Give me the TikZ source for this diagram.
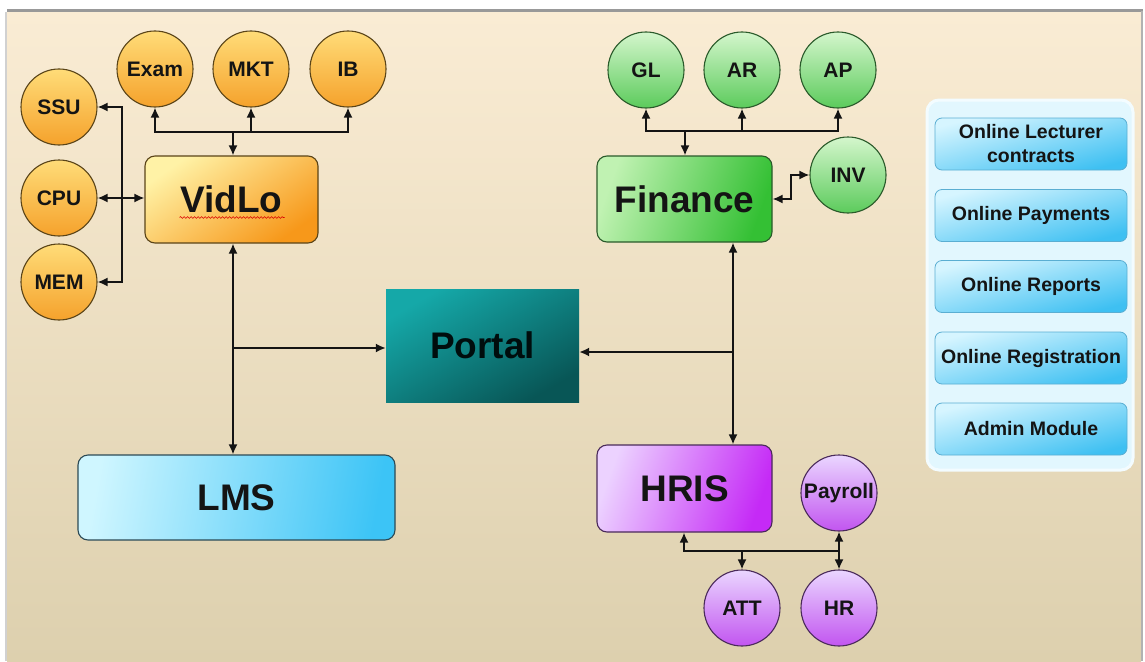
\documentclass[tikz,border=0pt]{standalone}
\usepackage{fontspec}
\setmainfont{Liberation Sans}
\usetikzlibrary{arrows.meta,calc,decorations.pathmorphing}

\definecolor{bgtop}{HTML}{FAECD4}
\definecolor{bgbot}{HTML}{DDD0AE}
\definecolor{ink}{HTML}{141414}
\definecolor{orA}{HTML}{FFF2A6}
\definecolor{orB}{HTML}{F7981A}
\definecolor{orC}{HTML}{FFDC78}
\definecolor{orD}{HTML}{F5A22C}
\definecolor{orE}{HTML}{5A4418}
\definecolor{grA}{HTML}{C0F2B2}
\definecolor{grB}{HTML}{34C034}
\definecolor{grC}{HTML}{D4F6CC}
\definecolor{grD}{HTML}{5CCB5C}
\definecolor{grE}{HTML}{2A5A2A}
\definecolor{puA}{HTML}{ECD2FF}
\definecolor{puB}{HTML}{C52AF6}
\definecolor{puC}{HTML}{EAD6FF}
\definecolor{puD}{HTML}{C255F0}
\definecolor{puE}{HTML}{4A2A5A}
\definecolor{cyA}{HTML}{CFF6FF}
\definecolor{cyB}{HTML}{3CC4F6}
\definecolor{cyE}{HTML}{2C4A55}
\definecolor{tlA}{HTML}{15A8A8}
\definecolor{tlB}{HTML}{085656}
\definecolor{pnl}{HTML}{E2F7FE}
\definecolor{btA}{HTML}{D6F5FF}
\definecolor{btB}{HTML}{3EC0F2}
\definecolor{btE}{HTML}{5AAED2}

\tikzset{
  bigtext/.style={font=\bfseries\fontsize{37}{40}\selectfont, text=ink},
  smalltext/.style={font=\bfseries\fontsize{21}{23}\selectfont, text=ink},
  modbox/.style={rounded corners=10pt, inner sep=0pt, line width=1.1pt, bigtext},
  orbox/.style={modbox, draw=orE, top color=orA, bottom color=orB, shading angle=35},
  grbox/.style={modbox, draw=grE, left color=grA, right color=grB, shading angle=70},
  pubox/.style={modbox, draw=puE, left color=puA, right color=puB, shading angle=70},
  cybox/.style={modbox, draw=cyE, left color=cyA, right color=cyB, shading angle=80},
  portalbox/.style={inner sep=0pt, bigtext, text=black!90!teal, top color=tlA, bottom color=tlB, shading angle=30},
  unit/.style={circle, minimum size=76pt, inner sep=0pt, line width=1.1pt, smalltext},
  orunit/.style={unit, draw=orE, top color=orC, bottom color=orD},
  grunit/.style={unit, draw=grE, top color=grC, bottom color=grD},
  puunit/.style={unit, draw=puE, top color=puC, bottom color=puD},
  onlinebtn/.style={rounded corners=7pt, draw=btE, line width=0.8pt, minimum width=192pt, minimum height=52pt,
    inner sep=0pt, align=center, top color=btA, bottom color=btB, shading angle=15,
    font=\bfseries\fontsize{19.5}{24}\selectfont, text=ink},
  link/.style={draw=ink, line width=1.8pt},
  tip/.tip={Latex[length=10pt,width=9pt]},
}

\begin{document}
\begin{tikzpicture}[x=1pt, y=-1pt]
  \useasboundingbox (0,0) rectangle (1145,661);
  \fill[white] (0,0) rectangle (1145,661);

  % sheet with its shadow edges
  \shade[top color=bgtop, bottom color=bgbot] (7,12) rectangle (1141,661);
  \draw[line width=3pt, black!40] (7,11) -- (1143,11);
  \draw[line width=2.5pt, black!30] (1142,11) -- (1142,661);
  \draw[line width=1.5pt, black!18] (6,12) -- (6,661);

  % main modules
  \node[orbox, minimum width=173pt, minimum height=87pt] (VidLo) at (231.5,199.5) {VidLo};
  \node[cybox, minimum width=317pt, minimum height=85pt] (LMS) at (236.5,497.5) {LMS};
  \node[portalbox, minimum width=193pt, minimum height=113pt] (Portal) at (482.5,345.5) {Portal};
  \node[grbox, minimum width=175pt, minimum height=86pt] (Finance) at (684.5,199) {Finance};
  \node[pubox, minimum width=175pt, minimum height=87pt] (HRIS) at (684.5,488.5) {HRIS};

  % spell-check underline under VidLo
  \draw[red!85!black, line width=0.6pt, decorate, decoration={snake, amplitude=0.9pt, segment length=3.5pt}]
    ($(VidLo.center)+(-52,18)$) -- ($(VidLo.center)+(53,18)$);

  % VidLo sub-units
  \node[orunit] (Exam) at (155,69) {Exam};
  \node[orunit] (MKT) at (251,69) {MKT};
  \node[orunit] (IB) at (348,69) {IB};
  \node[orunit] (SSU) at (59,107) {SSU};
  \node[orunit] (CPU) at (59,198) {CPU};
  \node[orunit] (MEM) at (59,282) {MEM};

  % Finance sub-units
  \node[grunit] (GL) at (646,70) {GL};
  \node[grunit] (AR) at (742,70) {AR};
  \node[grunit] (AP) at (838,70) {AP};
  \node[grunit] (INV) at (848,175) {INV};

  % HRIS sub-units
  \node[puunit] (Payroll) at (839,493) {Payroll};
  \node[puunit] (ATT) at (742,608) {ATT};
  \node[puunit] (HR) at (839,608) {HR};

  % online services panel
  \draw[rounded corners=12pt, fill=pnl, draw=white!60!pnl, line width=3pt] (927,100) rectangle (1133,470);
  \node[onlinebtn] (olc) at (1031,144) {Online Lecturer\\contracts};
  \node[onlinebtn] (opay) at (1031,215.5) {Online Payments};
  \node[onlinebtn] (orep) at (1031,286.5) {Online Reports};
  \node[onlinebtn] (oreg) at (1031,358) {Online Registration};
  \node[onlinebtn] (oadm) at (1031,429) {Admin Module};

  % bus junction points
  \coordinate (vbus) at (233,132);
  \coordinate (lbus) at (122,198);
  \coordinate (fbus) at (685,131);
  \coordinate (invj) at (791,199);
  \coordinate (fhx) at (733,352);
  \coordinate (hbus) at (684,551);

  % VidLo connectors
  \draw[link, {tip}-{tip}] (Exam.south) -- (Exam.south |- vbus) -- (IB.south |- vbus) -- (IB.south);
  \draw[link, -{tip}] (MKT.south |- vbus) -- (MKT.south);
  \draw[link, -{tip}] (vbus) -- (vbus |- VidLo.north);
  \draw[link, {tip}-{tip}] (SSU.east) -- (SSU.east -| lbus) -- (MEM.east -| lbus) -- (MEM.east);
  \draw[link, {tip}-{tip}] (CPU.east) -- (CPU.east -| VidLo.west);
  \draw[link, {tip}-{tip}] (vbus |- VidLo.south) -- (vbus |- LMS.north);
  \draw[link, -{tip}] ([yshift=-2.5pt]vbus |- Portal.west) -- ([yshift=-2.5pt]Portal.west);

  % Finance connectors
  \draw[link, {tip}-{tip}] (GL.south) -- (GL.south |- fbus) -- (AP.south |- fbus) -- (AP.south);
  \draw[link, -{tip}] (AR.south |- fbus) -- (AR.south);
  \draw[link, -{tip}] (fbus) -- (fbus |- Finance.north);
  \draw[link, {tip}-{tip}] (Finance.east) -- (invj) -- (invj |- INV.west) -- (INV.west);
  \draw[link, {tip}-{tip}] (fhx |- Finance.south) -- (fhx |- HRIS.north);
  \draw[link, -{tip}] (fhx) -- (fhx -| Portal.east);

  % HRIS connectors
  \draw[link, {tip}-] (hbus |- HRIS.south) -- (hbus) -- (hbus -| HR.north);
  \draw[link, -{tip}] (hbus -| ATT.north) -- (ATT.north);
  \draw[link, {tip}-{tip}] (Payroll.south) -- (HR.north);
\end{tikzpicture}
\end{document}
